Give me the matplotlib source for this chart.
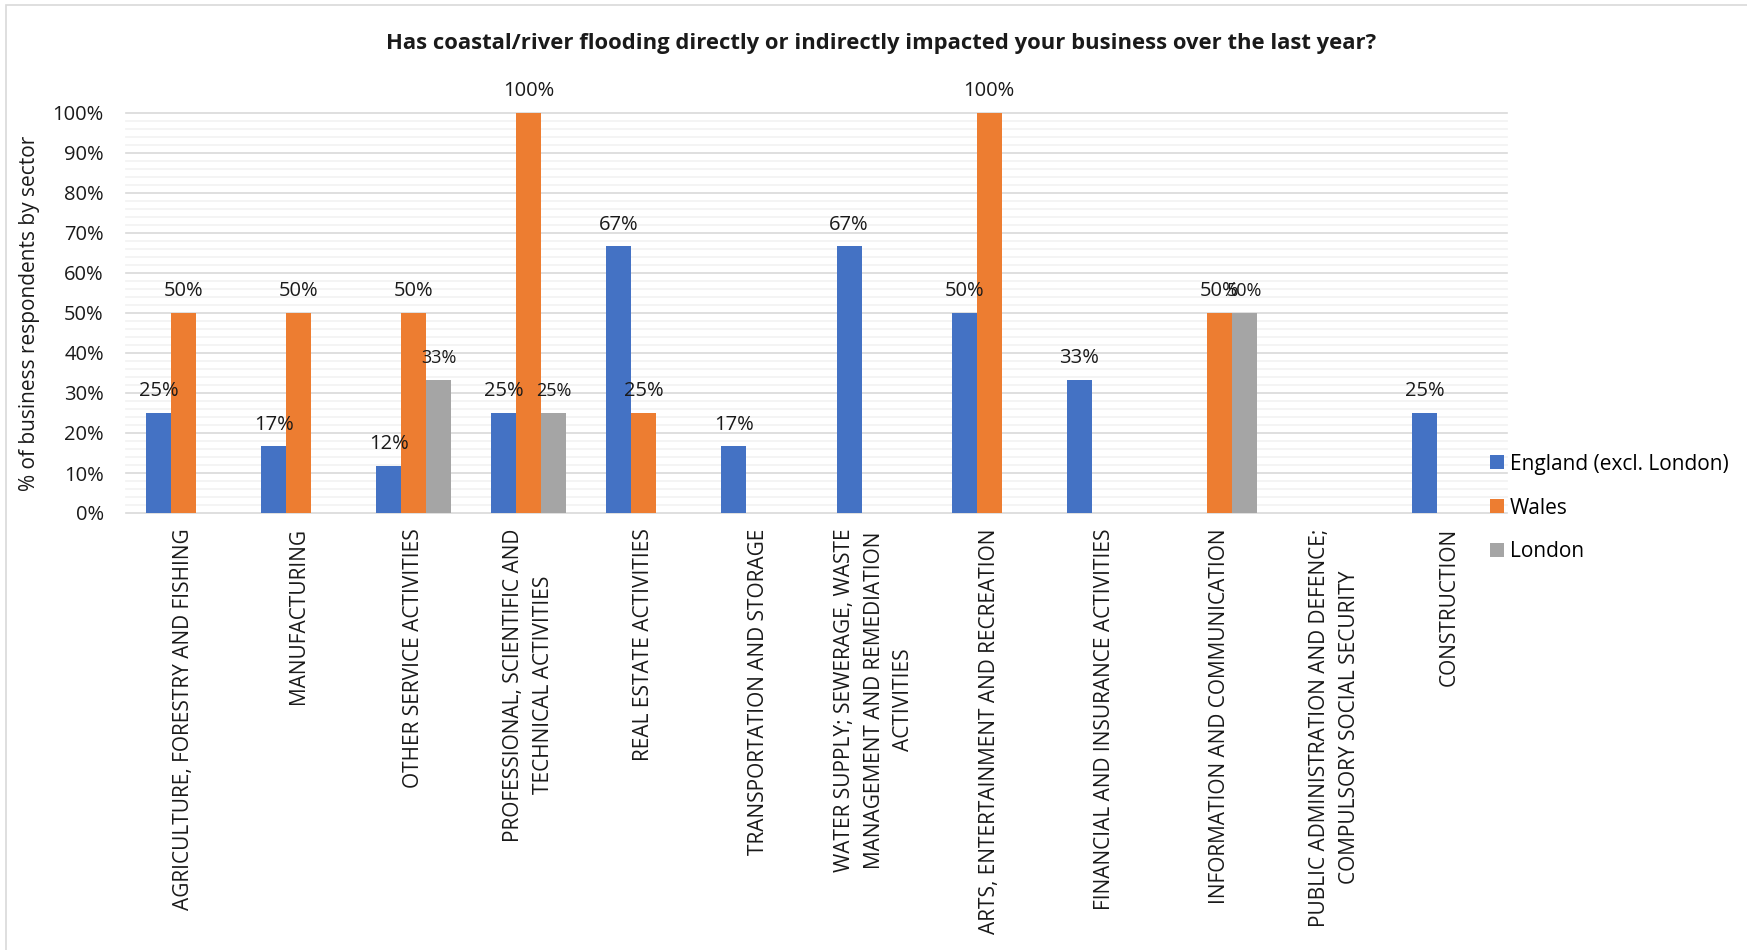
import matplotlib
matplotlib.use("Agg")
import matplotlib.pyplot as plt
from matplotlib.patches import Patch, Rectangle

plt.rcParams["font.family"] = ["Open Sans", "DejaVu Sans"]

TITLE = "Has coastal/river flooding directly or indirectly impacted your business over the last year?"
Y_LABEL = "% of business respondents by sector"

sectors = [
    "AGRICULTURE, FORESTRY AND FISHING",
    "MANUFACTURING",
    "OTHER SERVICE ACTIVITIES",
    "PROFESSIONAL, SCIENTIFIC AND\nTECHNICAL ACTIVITIES",
    "REAL ESTATE ACTIVITIES",
    "TRANSPORTATION AND STORAGE",
    "WATER SUPPLY; SEWERAGE, WASTE\nMANAGEMENT AND REMEDIATION\nACTIVITIES",
    "ARTS, ENTERTAINMENT AND RECREATION",
    "FINANCIAL AND INSURANCE ACTIVITIES",
    "INFORMATION AND COMMUNICATION",
    "PUBLIC ADMINISTRATION AND DEFENCE;\nCOMPULSORY SOCIAL SECURITY",
    "CONSTRUCTION",
]

series_names = ["England (excl. London)", "Wales", "London"]
england = [25, 16.7, 11.8, 25, 66.7, 16.7, 66.7, 50, 33.3, 0, 0, 25]
wales = [50, 50, 50, 100, 25, 0, 0, 100, 0, 50, 0, 0]
london = [0, 0, 33.3, 25, 0, 0, 0, 0, 0, 50, 0, 0]

colors = ["#4472C4", "#ED7D31", "#A5A5A5"]
label_sizes = [14.5, 14.5, 13]

W, H = 1747, 950
fig = plt.figure(figsize=(W / 100, H / 100), dpi=100)

# outer chart frame
fig.patches.append(
    Rectangle((6 / W, -0.1), 1.2, 1 - 5 / H + 0.1, transform=fig.transFigure,
              fill=False, edgecolor="#d9d9d9", linewidth=1.2)
)

ax = fig.add_axes([126 / W, 1 - 513 / H, (1507 - 126) / W, 400 / H])

# gridlines: minor every 2%, major every 10%
for y in range(0, 101, 2):
    if y % 10:
        ax.axhline(y, color="#f2f2f2", linewidth=1.2, zorder=0, clip_on=False)
for y in range(0, 101, 10):
    ax.axhline(y, color="#d9d9d9", linewidth=1.2, zorder=0.5, clip_on=False)

width = 0.217
x = list(range(len(sectors)))
all_series = [england, wales, london]
for k, (vals, name) in enumerate(zip(all_series, series_names)):
    pos = [i + (k - 1) * width for i in x]
    ax.bar(pos, vals, width=width, color=colors[k], label=name, zorder=2)
    for p, v in zip(pos, vals):
        if v > 0:
            ax.annotate(f"{v:.0f}%", (p, v), xytext=(0, 12), textcoords="offset points",
                        ha="center", va="baseline", fontsize=label_sizes[k],
                        color="#1a1a1a", zorder=3)

ax.set_xlim(-0.5, len(sectors) - 0.5)
ax.set_ylim(0, 100)
ax.set_yticks(range(0, 101, 10))
ax.set_yticklabels([f"{t}%" for t in range(0, 101, 10)], fontsize=14.5, color="#1a1a1a")
ax.set_xticks(x)
ax.set_xticklabels(sectors, rotation=90, va="top", ha="center", multialignment="center",
                   fontsize=15, linespacing=1.55, color="#1a1a1a")
ax.tick_params(axis="y", length=0, pad=16)
ax.tick_params(axis="x", length=0, pad=11)
for s in ax.spines.values():
    s.set_visible(False)

fig.text(30 / W, 1 - 313 / H, Y_LABEL, rotation=90, ha="center", va="center",
         fontsize=15, color="#1a1a1a")
fig.text(881 / W, 1 - 43 / H, TITLE, ha="center", va="center", fontsize=15.8,
         fontweight="bold", color="#1a1a1a")

handles = [Patch(facecolor=c, edgecolor="none") for c in colors]
fig.legend(handles, series_names, loc="center left",
           bbox_to_anchor=(1490 / W, 1 - 508 / H), bbox_transform=fig.transFigure,
           frameon=False, fontsize=15, handlelength=0.65, handleheight=0.65,
           handletextpad=0.3, labelspacing=1.1, borderpad=0, borderaxespad=0)

fig.savefig("out.png", dpi=100, facecolor="white")
